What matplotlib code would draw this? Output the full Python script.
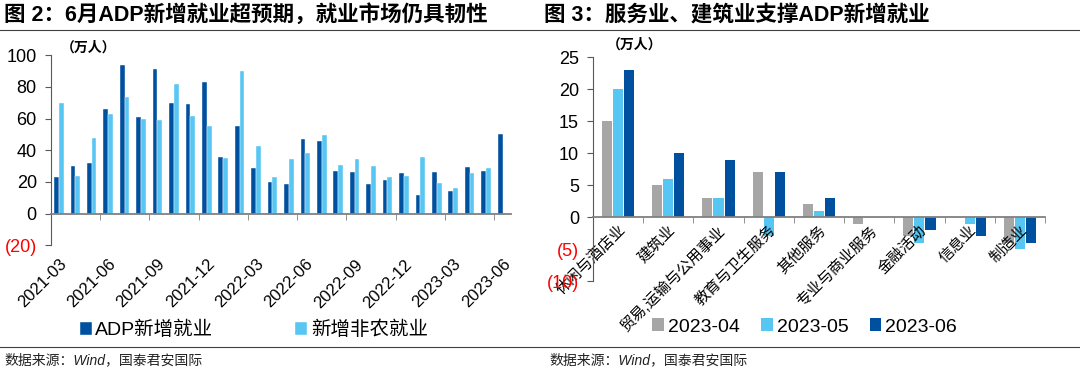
import numpy as np
import matplotlib
matplotlib.use("Agg")
import matplotlib.pyplot as plt
from matplotlib.lines import Line2D

plt.rcParams['font.family'] = ['Liberation Sans', 'Noto Sans CJK SC']
plt.rcParams['axes.unicode_minus'] = False

# ---- data: left chart (万人) ----
months = ['2021-03', '2021-04', '2021-05', '2021-06', '2021-07', '2021-08', '2021-09',
          '2021-10', '2021-11', '2021-12', '2022-01', '2022-02', '2022-03', '2022-04',
          '2022-05', '2022-06', '2022-07', '2022-08', '2022-09', '2022-10', '2022-11',
          '2022-12', '2023-01', '2023-02', '2023-03', '2023-04', '2023-05', '2023-06']
adp = [23, 30, 32, 66, 94, 61, 91.5, 70, 69, 83, 35.5, 55.5, 29, 20,
       19, 47, 46, 27, 26.5, 18.5, 21.5, 25.5, 12, 26, 14.5, 29.5, 27, 50]
nfp = [70, 23.5, 48, 63, 73.5, 60, 59, 82, 61.5, 55.5, 35, 90, 42.5, 23,
       34.5, 38.5, 49.5, 31, 34.5, 30, 23, 23.5, 35.5, 19.5, 16, 25.5, 28.5, np.nan]
left_yticks = [-20, 0, 20, 40, 60, 80, 100]
left_ylabels = ['(20)', '0', '20', '40', '60', '80', '100']

# ---- data: right chart (万人) ----
sectors = ['休闲与酒店业', '建筑业', '贸易,运输与公用事业', '教育与卫生服务', '其他服务',
           '专业与商业服务', '金融活动', '信息业', '制造业']
apr = [15, 5, 3, 7, 2, -1, -3, 0, -4]
may = [20, 6, 3, -3, 1, 0, -4, -1, -5]
jun = [23, 10, 9, 7, 3, 0, -2, -3, -4]
right_yticks = [-10, -5, 0, 5, 10, 15, 20, 25]
right_ylabels = ['(10)', '(5)', '0', '5', '10', '15', '20', '25']

dark = '#0050A0'
light = '#58C6F2'
gray = '#A6A6A6'

fig = plt.figure(figsize=(10.8, 3.77), dpi=100)

# header / footer rules
for yy in [1 - 29.5 / 377, 1 - 346.5 / 377]:
    fig.add_artist(Line2D([0, 1], [yy, yy], transform=fig.transFigure, color='#404040', lw=0.8))

fig.text(0.004, 1 - 15 / 377, '图 2：6月ADP新增就业超预期，就业市场仍具韧性',
         fontsize=15.5, fontweight='bold', va='center')
fig.text(0.504, 1 - 15 / 377, '图 3：服务业、建筑业支撑ADP新增就业',
         fontsize=15.5, fontweight='bold', va='center')
fig.text(0.004, 1 - 360 / 377, '数据来源：Wind，国泰君安国际', fontsize=10,
         style='italic', va='center', color='#222222')
fig.text(0.509, 1 - 360 / 377, '数据来源：Wind，国泰君安国际', fontsize=10,
         style='italic', va='center', color='#222222')


def style_axis(ax, yticks, ylabels):
    ax.spines['top'].set_visible(False)
    ax.spines['right'].set_visible(False)
    ax.spines['left'].set_color('#595959')
    ax.spines['bottom'].set_position(('data', 0))
    ax.spines['bottom'].set_color('#808080')
    ax.spines['bottom'].set_linewidth(1.3)
    ax.set_yticks(yticks, ylabels)
    ax.tick_params(axis='y', length=4, color='#595959', labelsize=13, pad=6)
    for lbl in ax.get_yticklabels():
        if lbl.get_text().startswith('('):
            lbl.set_color('red')


# ---- left chart ----
ax1 = fig.add_axes([0.0469, 0.349, 0.426, 0.505])
x = np.arange(len(months))
ax1.bar(x - 0.145, adp, 0.29, color=dark, edgecolor='white', linewidth=0.3, label='ADP新增就业')
ax1.bar(x + 0.145, nfp, 0.29, color=light, edgecolor='white', linewidth=0.3, label='新增非农就业')
ax1.set_xlim(-0.5, len(months) - 0.5)
ax1.set_ylim(-20, 100)
style_axis(ax1, left_yticks, left_ylabels)
ax1.set_xticks([])
ax1.set_xticks(np.arange(2.5, len(months) - 1, 3), minor=True)
ax1.tick_params(axis='x', which='minor', length=4, color='#808080')
sec = ax1.secondary_xaxis('bottom')
sec.set_xticks(x[::3], months[::3])
sec.tick_params(length=0, labelsize=12, pad=8)
for lbl in sec.get_xticklabels():
    lbl.set_rotation(45)
    lbl.set_ha('right')
    lbl.set_rotation_mode('anchor')
sec.spines['bottom'].set_visible(False)
fig.text(0.056, 1 - 48 / 377, '（万人）', fontsize=10, fontweight='bold', va='center')
ax1.legend(loc='center', bbox_to_anchor=(0.235, 1 - 330 / 377), bbox_transform=fig.transFigure,
           ncol=2, frameon=False, fontsize=14, handlelength=0.6, handleheight=0.6,
           handletextpad=0.2, columnspacing=4.2)

# ---- right chart ----
ax2 = fig.add_axes([0.549, 0.254, 0.4186, 0.594])
xs = np.arange(len(sectors))
ax2.bar(xs - 0.22, apr, 0.2, color=gray, label='2023-04')
ax2.bar(xs, may, 0.2, color=light, label='2023-05')
ax2.bar(xs + 0.22, jun, 0.2, color=dark, label='2023-06')
ax2.set_xlim(-0.5, len(sectors) - 0.5)
ax2.set_ylim(-10, 25)
style_axis(ax2, right_yticks, right_ylabels)
ax2.set_xticks(xs, sectors)
ax2.tick_params(axis='x', which='major', length=0, labelsize=11, pad=4)
for lbl in ax2.get_xticklabels():
    lbl.set_rotation(45)
    lbl.set_ha('right')
    lbl.set_rotation_mode('anchor')
ax2.set_xticks(np.arange(-0.5, len(sectors)), minor=True)
ax2.tick_params(axis='x', which='minor', length=4, color='#808080')
fig.text(0.562, 1 - 45 / 377, '（万人）', fontsize=10, fontweight='bold', va='center')
ax2.legend(loc='center', bbox_to_anchor=(0.745, 1 - 327 / 377), bbox_transform=fig.transFigure,
           ncol=3, frameon=False, fontsize=14, handlelength=0.6, handleheight=0.6,
           handletextpad=0.2, columnspacing=1.1)

fig.savefig('out.png', dpi=100)
